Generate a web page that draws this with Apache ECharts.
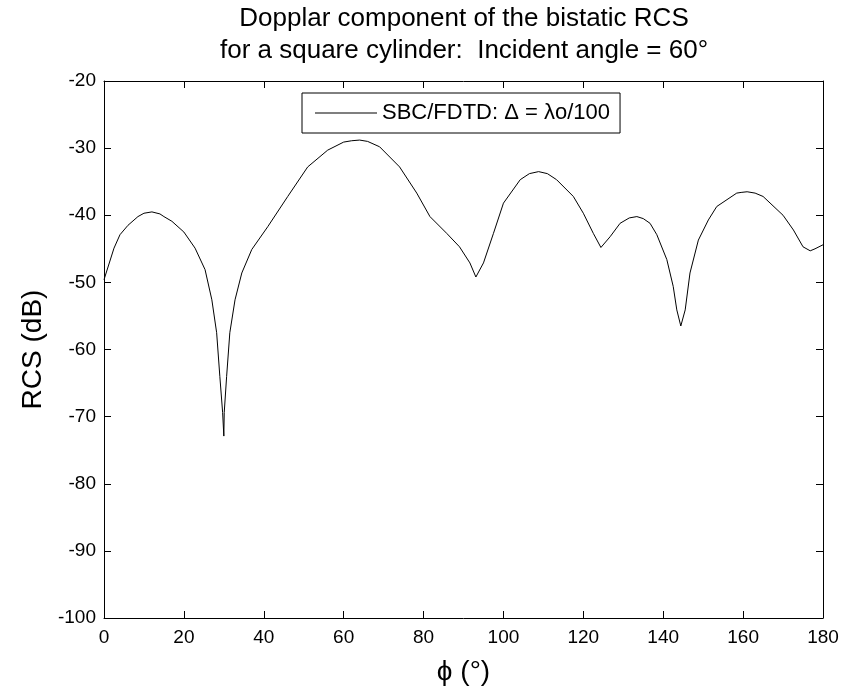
<!DOCTYPE html>
<html>
<head>
<meta charset="utf-8">
<script src="https://cdn.jsdelivr.net/npm/echarts@6/dist/echarts.min.js"></script>
<style>
  html, body { margin: 0; padding: 0; background: #fff; }
  #chart { width: 845px; height: 696px; }
</style>
</head>
<body>
<div id="chart"></div>
<script>
// phi (deg) and RCS (dB)
var phi = [0, 2.5, 4, 6, 8.5, 10, 12, 14, 15, 17, 20, 22.8, 25.3, 27, 28.2, 29, 29.7, 30,
  30.1, 30.7, 31.5, 32.8, 34.5, 37, 41, 46, 51, 56, 60, 62, 64, 66, 69, 74, 78.3, 81.6,
  85.8, 89, 91.6, 93.1, 95, 97.5, 100, 104.2, 106.5, 108.8, 111, 113.3, 117.5, 120, 122.5,
  124.4, 126.7, 129.2, 131.5, 133.4, 135, 136.7, 138.4, 140.9, 142.5, 143.4, 144.4, 145.5,
  146.7, 148.8, 151.3, 153.4, 158.4, 159.5, 161, 163, 165, 170, 172.6, 175, 176.8, 178, 180];
var rcs = [-49.6, -44.9, -42.9, -41.5, -40.2, -39.7, -39.5, -39.8, -40.2, -40.9, -42.5, -44.9, -48.1, -52.6, -57.5, -64, -69.4, -72.9,
  -69.4, -64, -57.5, -52.6, -48.6, -45.1, -41.7, -37.2, -32.8, -30.3, -29.1, -28.9, -28.8, -29.0, -29.8, -32.8, -36.7, -40.2,
  -42.7, -44.7, -47.1, -49.2, -47.1, -42.7, -38.2, -34.7, -33.8, -33.5, -33.8, -34.7, -37.2, -39.7, -42.7,
  -44.8, -43.2, -41.2, -40.4, -40.2, -40.5, -41.2, -42.9, -46.6, -50.6, -54.1, -56.5, -54.1,
  -48.6, -43.7, -40.7, -38.7, -36.7, -36.6, -36.5, -36.7, -37.2, -40.0, -42.2, -44.7, -45.3, -45.0, -44.4];
var xTicks = [0, 20, 40, 60, 80, 100, 120, 140, 160, 180];
var yTicks = [-100, -90, -80, -70, -60, -50, -40, -30, -20];
var seriesName = 'SBC/FDTD: \u0394 = \u03bbo/100';

var FONT = "'Liberation Sans', Arial, sans-serif";

var pts = [];
for (var i = 0; i < phi.length; i++) {
  pts.push([phi[i], rcs[i]]);
}

var myChart = echarts.init(document.getElementById('chart'));

var tickStyle = { show: true, inside: true, length: 7, lineStyle: { color: '#000', width: 1 } };
var lineSty = { show: true, onZero: false, lineStyle: { color: '#000', width: 1 } };

var option = {
  backgroundColor: '#fff',
  animation: false,
  graphic: [{
    type: 'text',
    x: 464,
    y: 3,
    style: {
      text: 'Dopplar component of the bistatic RCS\nfor a square cylinder:  Incident angle = 60\u00b0',
      font: '26px ' + FONT,
      lineHeight: 32,
      textAlign: 'center',
      fill: '#000'
    }
  }],
  grid: { left: 104, right: 22, top: 81, bottom: 78 },
  legend: {
    data: [seriesName],
    left: 302,
    top: 93,
    icon: 'rect',
    itemWidth: 62,
    itemHeight: 1,
    itemGap: 10,
    padding: [9, 10, 9, 13],
    borderColor: '#000',
    borderWidth: 1,
    borderRadius: 0,
    backgroundColor: '#fff',
    textStyle: { color: '#000', fontSize: 22, fontFamily: FONT }
  },
  xAxis: [{
    type: 'value',
    min: 0, max: 180, interval: 20,
    position: 'bottom',
    name: '\u03d5 (\u00b0)',
    nameLocation: 'middle',
    nameGap: 40,
    nameTextStyle: { color: '#000', fontSize: 28, fontFamily: FONT },
    axisLine: lineSty,
    axisTick: tickStyle,
    axisLabel: { color: '#000', fontSize: 19, fontFamily: FONT, margin: 10 },
    splitLine: { show: false }
  }, {
    type: 'value',
    min: 0, max: 180, interval: 20,
    position: 'top',
    axisLine: lineSty,
    axisTick: tickStyle,
    axisLabel: { show: false },
    splitLine: { show: false }
  }],
  yAxis: [{
    type: 'value',
    min: -100, max: -20, interval: 10,
    position: 'left',
    name: 'RCS (dB)',
    nameLocation: 'middle',
    nameGap: 57,
    nameTextStyle: { color: '#000', fontSize: 28, fontFamily: FONT },
    axisLine: lineSty,
    axisTick: tickStyle,
    axisLabel: { color: '#000', fontSize: 19, fontFamily: FONT, margin: 8 },
    splitLine: { show: false }
  }, {
    type: 'value',
    min: -100, max: -20, interval: 10,
    position: 'right',
    axisLine: lineSty,
    axisTick: tickStyle,
    axisLabel: { show: false },
    splitLine: { show: false }
  }],
  series: [{
    name: seriesName,
    type: 'line',
    data: pts,
    showSymbol: false,
    symbol: 'none',
    lineStyle: { color: '#000', width: 1 },
    itemStyle: { color: '#000' }
  }]
};

myChart.setOption(option);
</script>
</body>
</html>
